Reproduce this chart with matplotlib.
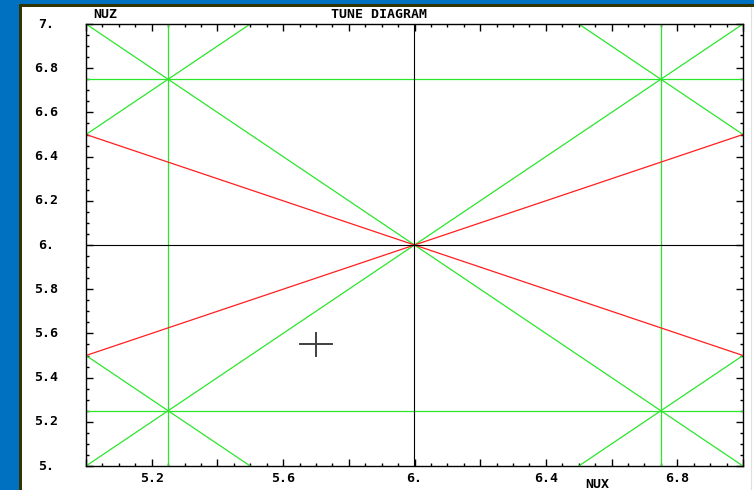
import matplotlib
matplotlib.use("Agg")
import matplotlib.pyplot as plt
from matplotlib.patches import Rectangle
from matplotlib.lines import Line2D
import numpy as np

# Tune space window
nux_lim = (5.0, 7.0)
nuz_lim = (5.0, 7.0)

# Resonance lines m*NUX + n*NUZ = p
integer_res = [(1, 0, 6), (0, 1, 6)]
third_res = [(1, 2, 18), (1, -2, -6)]
fourth_res = [(4, 0, 21), (4, 0, 27), (0, 4, 21), (0, 4, 27),
              (2, 2, 21), (2, 2, 24), (2, 2, 27),
              (2, -2, -3), (2, -2, 0), (2, -2, 3)]

# Working point
work_nux = 5.70
work_nuz = 5.55
work_half = 0.05

# Tick labels
xlabel_pos = [5.2, 5.6, 6.0, 6.4, 6.8]
xlabel_txt = ["5.2", "5.6", "6.", "6.4", "6.8"]
ylabel_pos = [5.0, 5.2, 5.4, 5.6, 5.8, 6.0, 6.2, 6.4, 6.6, 6.8, 7.0]
ylabel_txt = ["5.", "5.2", "5.4", "5.6", "5.8", "6.", "6.2", "6.4", "6.6", "6.8", "7."]

W, H = 754, 490
fig = plt.figure(figsize=(W / 100, H / 100), dpi=100, facecolor="#0070C0")

# window frame
fig.add_artist(Rectangle((19 / W, 0), 1, (H - 4) / H, transform=fig.transFigure,
                         facecolor="#333300", edgecolor="none", zorder=0))
fig.add_artist(Rectangle((22 / W, 0), 1, (H - 7) / H, transform=fig.transFigure,
                         facecolor="white", edgecolor="none", zorder=0))
fig.add_artist(Line2D([751 / W, 751 / W], [0, (H - 7) / H], transform=fig.transFigure,
                      color="#e0e0e0", lw=0.8, zorder=0))

left, right, top, bottom = 86, 743, 24, 466
ax = fig.add_axes([left / W, (H - bottom) / H, (right - left) / W, (bottom - top) / H])
ax.set_facecolor("white")
ax.set_xlim(*nux_lim)
ax.set_ylim(*nuz_lim)


def draw_res(m, n, p, color, lw):
    if n == 0:
        ax.axvline(p / m, color=color, lw=lw)
    else:
        ax.axline((6.0, (p - 6.0 * m) / n), slope=-m / n, color=color, lw=lw)


for m, n, p in fourth_res:
    draw_res(m, n, p, "#2BE62B", 0.9)
for m, n, p in third_res:
    draw_res(m, n, p, "#FF1E1E", 0.9)
for m, n, p in integer_res:
    draw_res(m, n, p, "black", 0.8)

ax.plot([work_nux - work_half, work_nux + work_half], [work_nuz, work_nuz],
        color="#404040", lw=1.4)
ax.plot([work_nux, work_nux], [work_nuz - work_half, work_nuz + work_half],
        color="#404040", lw=1.4)

for s in ax.spines.values():
    s.set_linewidth(1.0)
    s.set_color("black")

ax.set_xticks(np.arange(5.0, 7.001, 0.2))
ax.set_xticks(np.arange(5.0, 7.001, 0.05), minor=True)
ax.set_yticks(np.arange(5.0, 7.001, 0.2))
ax.set_yticks(np.arange(5.0, 7.001, 0.05), minor=True)
ax.set_xticklabels([])
ax.set_yticklabels([])
ax.tick_params(which="both", direction="in", top=True, right=True, color="black",
               width=1.0)
ax.tick_params(which="major", length=5)
ax.tick_params(which="minor", length=2.5)

font = dict(family="DejaVu Sans Mono", fontweight="bold", fontsize=9.5, color="black")

for v, t in zip(xlabel_pos, xlabel_txt):
    ax.text(v, -12 / (bottom - top), t, transform=ax.get_xaxis_transform(),
            ha="center", va="center", **font)
for v, t in zip(ylabel_pos, ylabel_txt):
    ax.text((46 - left) / (right - left), v, t, transform=ax.get_yaxis_transform(),
            ha="center", va="center", **font)

fig.text(105 / W, 1 - 14 / H, "NUZ", ha="center", va="center", **font)
fig.text(379 / W, 1 - 14.5 / H, "TUNE DIAGRAM", ha="center", va="center", **font)
fig.text(597 / W, 1 - 484 / H, "NUX", ha="center", va="center", **font)

fig.savefig("out.png", dpi=100, facecolor=fig.get_facecolor())
